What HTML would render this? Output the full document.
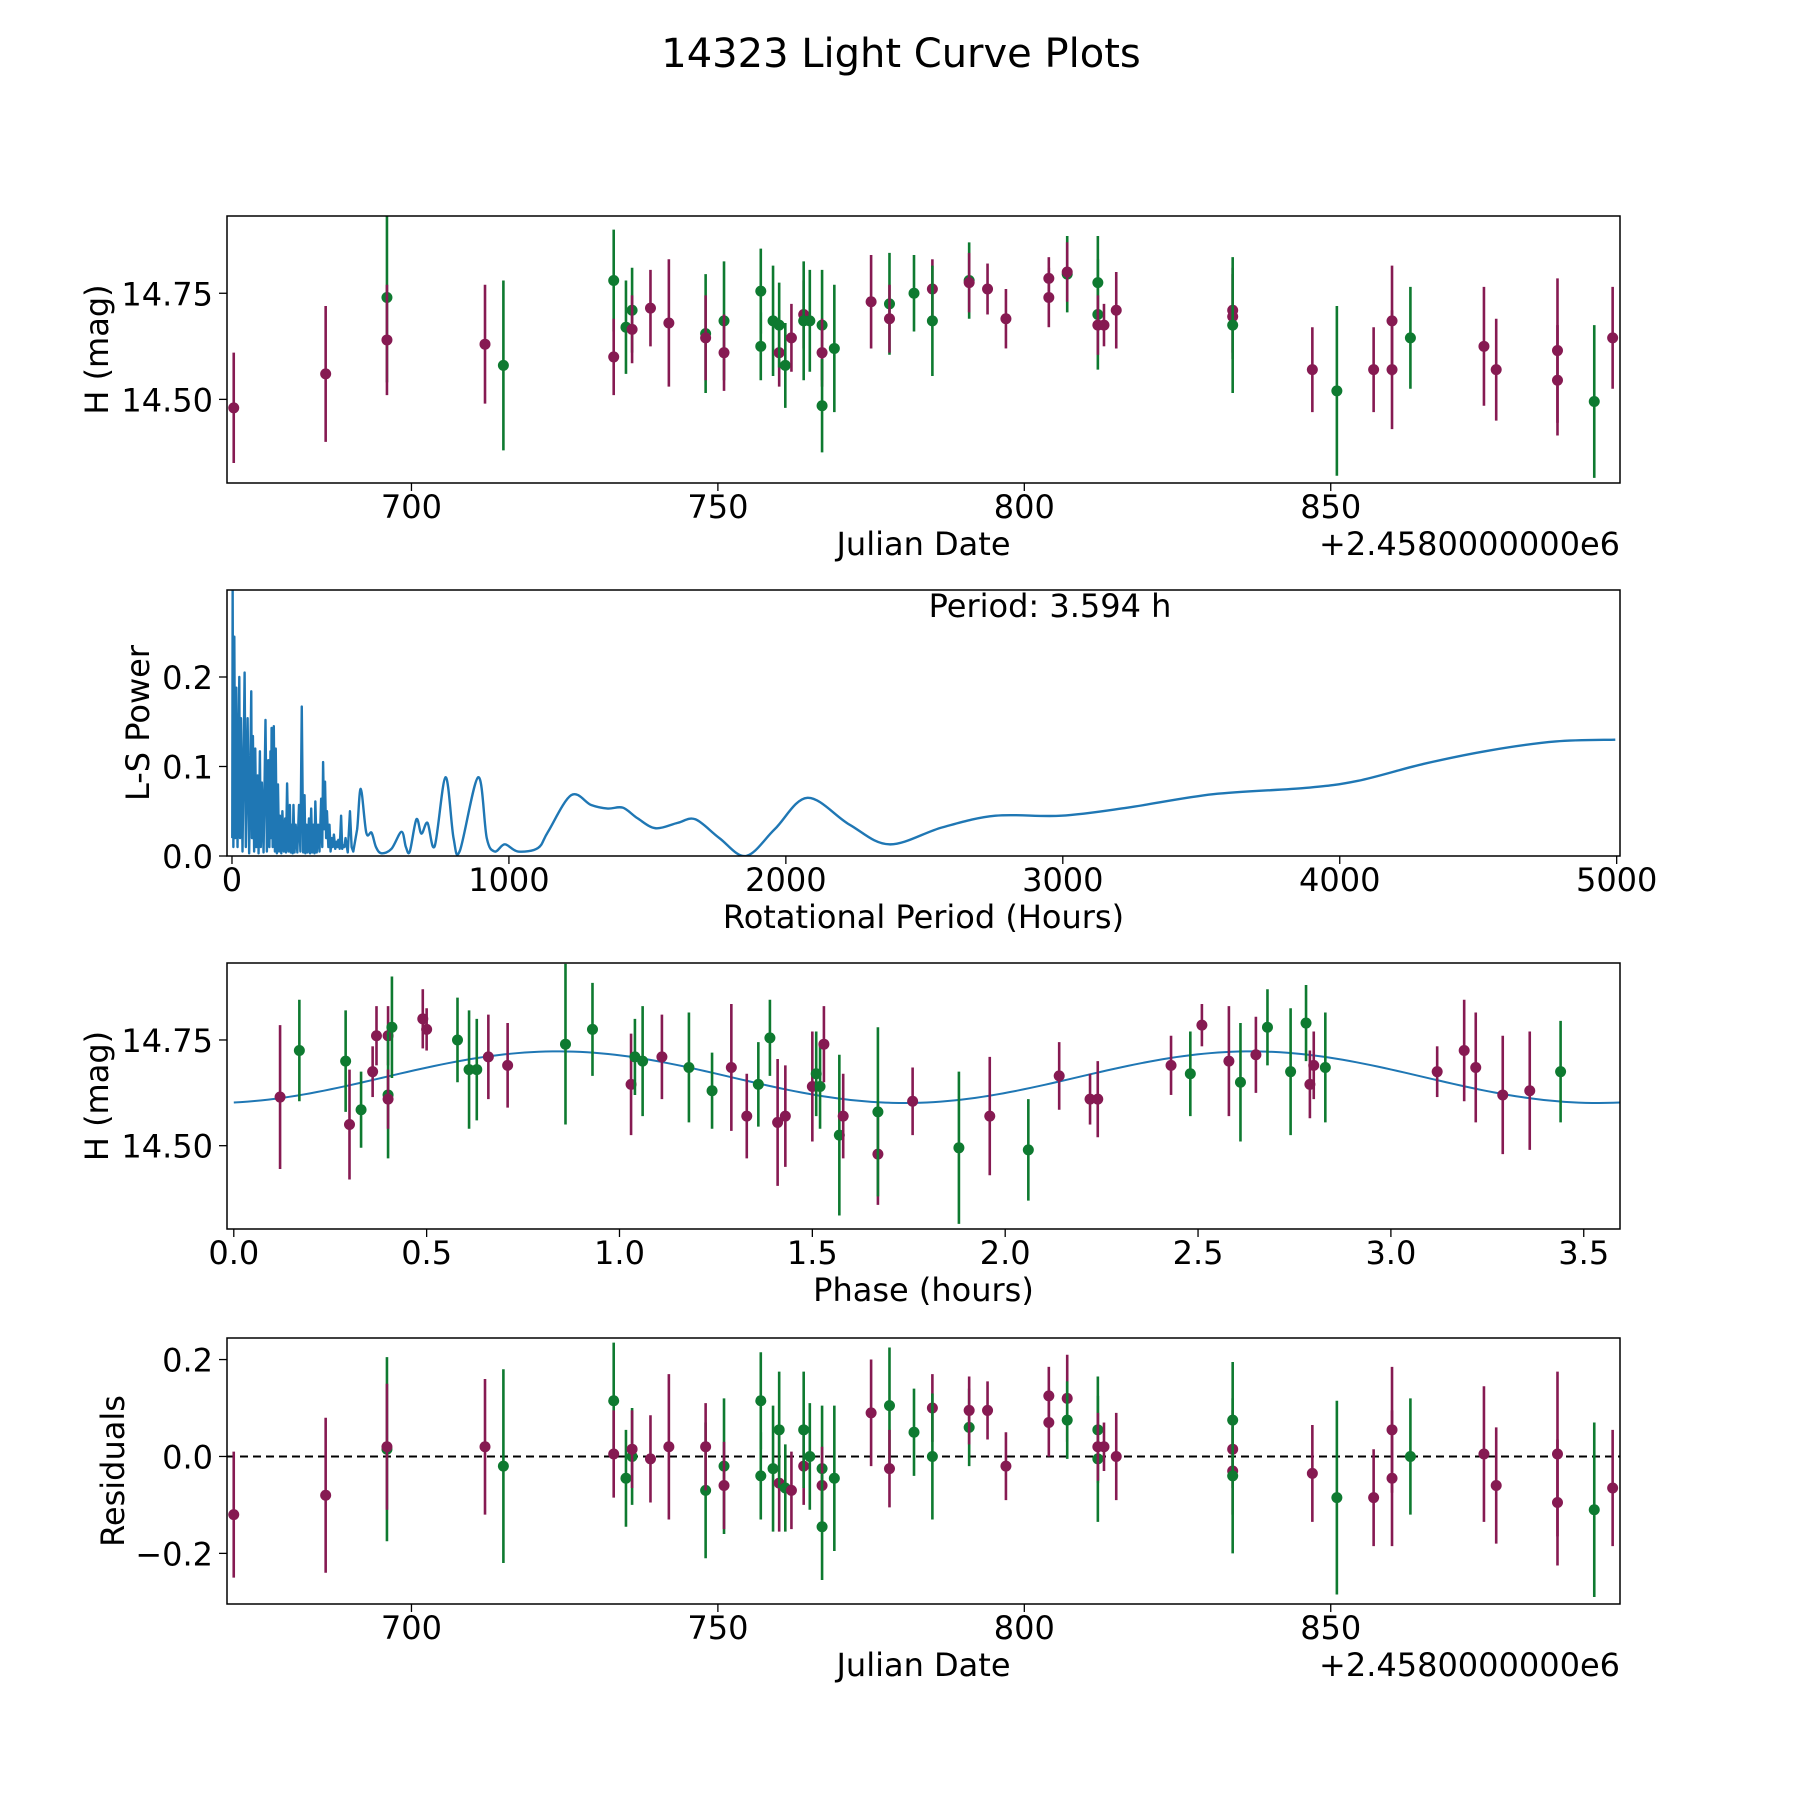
<!DOCTYPE html>
<html><head><meta charset="utf-8"><title>14323 Light Curve Plots</title>
<style>html,body{margin:0;padding:0;background:#fff}svg{display:block}
text{font-family:"DejaVu Sans","Liberation Sans",sans-serif;fill:#000}</style></head>
<body>
<svg id="fig" xmlns="http://www.w3.org/2000/svg" width="1800" height="1800" viewBox="0 0 1800 1800">
<text x="901" y="67" font-size="40" text-anchor="middle">14323 Light Curve Plots</text>
</svg>
<script>
// ---- Panel 1: light curve vs Julian Date ----
const lcDates = [671,686,696,696,712,715,733,733,735,736,736,739,742,748,748,751,751,757,757,759,760,760,761,762,764,764,765,767,767,767,769,775,778,778,782,785,785,791,791,794,797,804,804,807,807,812,812,812,813,815,834,834,834,847,851,857,860,860,863,875,877,887,887,893,896];
const lcMags = [14.48,14.56,14.74,14.64,14.63,14.58,14.78,14.60,14.67,14.71,14.665,14.715,14.68,14.655,14.645,14.685,14.61,14.755,14.625,14.685,14.61,14.675,14.58,14.645,14.70,14.685,14.685,14.675,14.61,14.485,14.62,14.73,14.725,14.69,14.75,14.76,14.685,14.78,14.775,14.76,14.69,14.785,14.74,14.795,14.80,14.775,14.70,14.675,14.675,14.71,14.71,14.695,14.675,14.57,14.52,14.57,14.685,14.57,14.645,14.625,14.57,14.615,14.545,14.495,14.645];
const lcErrs = [0.13,0.16,0.2,0.13,0.14,0.2,0.12,0.09,0.11,0.1,0.08,0.09,0.15,0.14,0.1,0.14,0.09,0.1,0.08,0.13,0.08,0.1,0.1,0.08,0.08,0.14,0.12,0.13,0.08,0.11,0.15,0.11,0.12,0.08,0.09,0.07,0.13,0.09,0.07,0.06,0.07,0.05,0.07,0.09,0.07,0.11,0.13,0.07,0.05,0.09,0.1,0.1,0.16,0.1,0.2,0.1,0.13,0.14,0.12,0.14,0.12,0.17,0.13,0.18,0.12];
const lcBands = ["m","m","g","m","m","g","g","m","g","g","m","m","m","g","m","g","m","g","g","g","m","g","g","m","m","g","g","g","m","g","g","m","g","m","g","m","g","g","m","m","m","m","m","g","m","g","g","m","m","m","m","m","g","m","g","m","m","m","g","m","m","m","m","g","m"];

// ---- Panel 2: Lomb-Scargle periodogram ----
const lsPeriods = [1,2.4,5,8.4,12,15.6,20,26.4,29,32.4,38,45.6,50,56.4,62,69.6,72,75.6,80,84,88,92.4,96,100.8,104,108,114,121,126,131,135,139,141,143,147,151,155,158,162,166,170,173,178,182,187,192,195,199,204,209,212,216,219,222,226,230,236,242,247,252,257,262,265,269,273,278,282,286,290,294,298,301,306,311,316,322,326,329,333,336,340,343,348,352,356,360,364,368,373,378,381,384,389,394,398,402,406,410,418,426,432,438,452,465,485,504,520,540,576,612,628,642,666,684,706,732,771,800,823,889,920,949,985,1033,1105,1141,1225,1297,1357,1411,1465,1530,1609,1673,1760,1856,1960,2078,2230,2374,2565,2757,2994,3233,3543,3875,4066,4304,4542,4780,4995];
const lsPowers = [0.02,0.30,0.01,0.245,0.02,0.188,0.01,0.20,0.02,0.154,0.005,0.205,0.01,0.154,0.003,0.184,0.02,0.134,0.005,0.12,0.01,0.09,0.003,0.117,0.01,0.082,0.004,0.152,0.005,0.107,0.01,0.117,0.02,0.143,0.01,0.145,0.005,0.12,0.003,0.08,0.005,0.045,0.003,0.05,0.005,0.042,0.004,0.081,0.005,0.057,0.004,0.035,0.003,0.057,0.004,0.035,0.004,0.057,0.005,0.167,0.004,0.068,0.003,0.035,0.004,0.042,0.003,0.053,0.004,0.035,0.003,0.061,0.004,0.035,0.005,0.064,0.01,0.105,0.03,0.083,0.02,0.05,0.01,0.035,0.005,0.02,0.01,0.024,0.008,0.016,0.01,0.018,0.008,0.045,0.008,0.012,0.01,0.02,0.004,0.05,0.01,0.005,0.03,0.075,0.026,0.026,0.01,0.003,0.008,0.027,0.01,0.005,0.041,0.025,0.037,0.011,0.088,0.02,0.006,0.088,0.02,0.005,0.013,0.005,0.009,0.027,0.068,0.057,0.053,0.054,0.042,0.031,0.037,0.041,0.02,0.0,0.03,0.065,0.035,0.013,0.032,0.045,0.045,0.054,0.069,0.076,0.084,0.103,0.118,0.128,0.130];

// ---- Panel 3: phase-folded light curve ----
const phPhases = [0.12,0.17,0.29,0.30,0.33,0.36,0.37,0.40,0.40,0.40,0.41,0.49,0.50,0.58,0.61,0.63,0.66,0.71,0.86,0.93,1.03,1.04,1.06,1.11,1.18,1.24,1.29,1.33,1.36,1.39,1.41,1.43,1.50,1.51,1.52,1.53,1.57,1.58,1.67,1.67,1.76,1.88,1.96,2.06,2.14,2.22,2.24,2.43,2.48,2.51,2.58,2.61,2.65,2.68,2.74,2.78,2.79,2.80,2.83,3.12,3.19,3.22,3.29,3.36,3.44];
const phMags = [14.615,14.725,14.70,14.55,14.585,14.675,14.76,14.76,14.62,14.61,14.78,14.80,14.775,14.75,14.68,14.68,14.71,14.69,14.74,14.775,14.645,14.71,14.70,14.71,14.685,14.63,14.685,14.57,14.645,14.755,14.555,14.57,14.64,14.67,14.64,14.74,14.525,14.57,14.48,14.58,14.605,14.495,14.57,14.49,14.665,14.61,14.61,14.69,14.67,14.785,14.70,14.65,14.715,14.78,14.675,14.79,14.645,14.69,14.685,14.675,14.725,14.685,14.62,14.63,14.675];
const phErrs = [0.17,0.12,0.12,0.13,0.09,0.06,0.07,0.07,0.15,0.07,0.12,0.07,0.05,0.1,0.14,0.12,0.1,0.1,0.19,0.11,0.12,0.09,0.13,0.1,0.13,0.09,0.15,0.1,0.1,0.09,0.15,0.12,0.13,0.1,0.1,0.09,0.19,0.1,0.12,0.2,0.08,0.18,0.14,0.12,0.08,0.06,0.09,0.07,0.1,0.05,0.13,0.14,0.09,0.09,0.15,0.09,0.08,0.08,0.13,0.06,0.12,0.13,0.14,0.14,0.12];
const phBands = ["m","g","g","m","g","m","m","m","g","m","g","m","m","g","g","g","m","m","g","g","m","g","g","m","g","g","m","m","g","g","m","m","m","g","g","m","g","m","m","g","m","g","m","g","m","m","m","m","g","m","m","g","m","g","g","g","m","m","g","m","m","m","m","m","g"];
// fitted sinusoid model parameters: [mean, amplitude, phase offset (h), period (h)]
const fitParams = [14.662, 0.061, 0.058, 3.594];

// ---- Panel 4: residuals ----
const rsDates = [671,686,696,696,712,715,733,733,735,736,736,739,742,748,748,751,751,757,757,759,760,760,761,762,764,764,765,767,767,767,769,775,778,778,782,785,785,791,791,794,797,804,804,807,807,812,812,812,813,815,834,834,834,834,847,851,857,860,860,863,875,877,887,887,893,896];
const rsVals = [-0.12,-0.08,0.015,0.02,0.02,-0.02,0.115,0.005,-0.045,0.0,0.015,-0.005,0.02,-0.07,0.02,-0.02,-0.06,0.115,-0.04,-0.025,-0.055,0.055,-0.065,-0.07,-0.02,0.055,0.0,-0.025,-0.06,-0.145,-0.045,0.09,0.105,-0.025,0.05,0.1,0.0,0.06,0.095,0.095,-0.02,0.125,0.07,0.12,0.075,0.055,-0.005,0.02,0.02,0.0,0.075,0.015,-0.03,-0.04,-0.035,-0.085,-0.085,0.055,-0.045,0.0,0.005,-0.06,0.005,-0.095,-0.11,-0.065];
const rsErrs = [0.13,0.16,0.19,0.13,0.14,0.2,0.12,0.09,0.1,0.1,0.08,0.09,0.15,0.14,0.09,0.14,0.09,0.1,0.09,0.13,0.1,0.12,0.09,0.08,0.08,0.12,0.11,0.13,0.08,0.11,0.15,0.11,0.12,0.08,0.09,0.07,0.13,0.08,0.07,0.06,0.07,0.06,0.07,0.09,0.08,0.11,0.13,0.07,0.05,0.09,0.12,0.08,0.09,0.16,0.1,0.2,0.1,0.13,0.14,0.12,0.14,0.12,0.17,0.13,0.18,0.12];
const rsBands = ["m","m","g","m","m","g","g","m","g","g","m","m","m","g","m","g","m","g","g","g","m","g","g","m","m","g","g","g","m","g","g","m","g","m","g","m","g","g","m","m","m","m","m","m","g","g","g","m","m","m","g","m","m","g","m","g","m","m","m","g","m","m","m","m","g","m"];

const xTicksDate = [700,750,800,850];
const yTicksMag = [14.50,14.75];
const xTicksPeriod = [0,1000,2000,3000,4000,5000];
const yTicksPower = [0.0,0.1,0.2];
const xTicksPhase = [0.0,0.5,1.0,1.5,2.0,2.5,3.0,3.5];
const yTicksRes = [-0.2,0.0,0.2];

const NS = "http://www.w3.org/2000/svg";
const svg = document.getElementById("fig");
const COL = {m:"#861a52", g:"#0e7a30"};
function el(tag, attrs, parent){const e=document.createElementNS(NS,tag);for(const k in attrs)e.setAttribute(k,attrs[k]);(parent||svg).appendChild(e);return e;}
function lin(d0,d1,p0,p1){return v=>p0+(v-d0)*(p1-p0)/(d1-d0);}
const R = 1620;

function makeAxes(name, box, xd, yd, xt, yt, xfmt, yfmt, xlabel, ylabel, ylabX, offsetText){
  const g = el("g",{});
  
  
  const X = lin(xd[0],xd[1],box.l,box.r), Y = lin(yd[0],yd[1],box.b,box.t);
  const cid = name+"-clip";
  const cp = el("clipPath",{id:cid},g);
  el("rect",{x:box.l,y:box.t,width:box.r-box.l,height:box.b-box.t},cp);
  const plot = el("g",{"clip-path":"url(#"+cid+")"},g);
  
  
  xt.forEach(v=>{
    const x=X(v);
    const t=el("line",{x1:x,x2:x,y1:box.b,y2:box.b+8,stroke:"#000","stroke-width":1.3},g);
    
    
    const tx=el("text",{x:x,y:box.b+35,"font-size":32,"text-anchor":"middle"},g);
    tx.textContent=xfmt(v);
    
    
  });
  yt.forEach(v=>{
    const y=Y(v);
    const t=el("line",{x1:box.l-8,x2:box.l,y1:y,y2:y,stroke:"#000","stroke-width":1.3},g);
    
    
    const tx=el("text",{x:box.l-14,y:y+12,"font-size":32,"text-anchor":"end"},g);
    tx.textContent=yfmt(v);
    
    
  });
  const xl=el("text",{x:(box.l+box.r)/2,y:box.b+72,"font-size":32,"text-anchor":"middle"},g);
  xl.textContent=xlabel;
  
  
  const cy=(box.t+box.b)/2;
  const yl=el("text",{x:ylabX,y:cy,"font-size":32,"text-anchor":"middle","dominant-baseline":"central",transform:"rotate(-90 "+ylabX+" "+cy+")"},g);
  yl.textContent=ylabel;
  
  
  if(offsetText){
    const ot=el("text",{x:box.r,y:box.b+72,"font-size":32,"text-anchor":"end"},g);
    ot.textContent=offsetText;
    
    
  }
  return {g,plot,X,Y,box};
}
function frame(ax){
  const r=el("rect",{x:ax.box.l,y:ax.box.t,width:ax.box.r-ax.box.l,height:ax.box.b-ax.box.t,fill:"none",stroke:"#000","stroke-width":1.5},ax.g);
  
  
}
function errPoints(ax, xs, ys, es, bands, nm){
  for(let i=0;i<xs.length;i++){
    const x=ax.X(xs[i]), c=COL[bands[i]]||COL.m;
    const l=el("line",{x1:x,x2:x,y1:ax.Y(ys[i]-es[i]),y2:ax.Y(ys[i]+es[i]),stroke:c,"stroke-width":2.6},ax.plot);
    
    
    const p=el("circle",{cx:x,cy:ax.Y(ys[i]),r:5.5,fill:c},ax.plot);
    
    
  }
}
const f2 = v=>v.toFixed(2), f1=v=>(v<0?"\u2212":"")+Math.abs(v).toFixed(1), f0=v=>String(v);
const dateRange=[669.9,897.2], magRange=[14.303,14.932];

// Panel 1
const ax1 = makeAxes("light-curve-panel",{l:227,r:R,t:216,b:483},dateRange,magRange,xTicksDate,yTicksMag,f0,f2,"Julian Date","H (mag)",97,"+2.4580000000e6");
errPoints(ax1, lcDates, lcMags, lcErrs, lcBands, "light-curve");
frame(ax1);

// Panel 2
const ax2 = makeAxes("periodogram-panel",{l:227,r:R,t:590,b:856},[-18,5012],[0,0.2972],xTicksPeriod,yTicksPower,f0,f1,"Rotational Period (Hours)","L-S Power",138,null);
const pts = lsPeriods.map((p,i)=>[ax2.X(p), ax2.Y(lsPowers[i])]);
let d="M"+pts[0][0].toFixed(2)+" "+pts[0][1].toFixed(2);
for(let i=1;i<pts.length;i++){
  if(lsPeriods[i] <= 452){ d+="L"+pts[i][0].toFixed(2)+" "+pts[i][1].toFixed(2); continue; }
  const p0=pts[Math.max(i-2,0)], p1=pts[i-1], p2=pts[i], p3=pts[Math.min(i+1,pts.length-1)];
  const c1=[p1[0]+(p2[0]-p0[0])/6, p1[1]+(p2[1]-p0[1])/6];
  const c2=[p2[0]-(p3[0]-p1[0])/6, p2[1]-(p3[1]-p1[1])/6];
  d+="C"+c1[0].toFixed(2)+" "+c1[1].toFixed(2)+" "+c2[0].toFixed(2)+" "+c2[1].toFixed(2)+" "+p2[0].toFixed(2)+" "+p2[1].toFixed(2);
}
const pl=el("path",{d:d,fill:"none",stroke:"#1f77b4","stroke-width":2.4,"stroke-linejoin":"round"},ax2.plot);


const pt=el("text",{x:1050,y:617,"font-size":32,"text-anchor":"middle"},ax2.g);
pt.textContent="Period: 3.594 h";


frame(ax2);

// Panel 3
const ax3 = makeAxes("phase-panel",{l:227,r:R,t:963,b:1229},[-0.0176,3.594],magRange,xTicksPhase,yTicksMag,v=>v.toFixed(1),f2,"Phase (hours)","H (mag)",97,null);
let dm="";
const N=200;
for(let i=0;i<=N;i++){
  const t=fitParams[3]*i/N;
  const m=fitParams[0]-fitParams[1]*Math.cos(4*Math.PI*(t+fitParams[2])/fitParams[3]);
  dm+=(i?"L":"M")+ax3.X(t).toFixed(2)+" "+ax3.Y(m).toFixed(2);
}
const ml=el("path",{d:dm,fill:"none",stroke:"#1f77b4","stroke-width":2},ax3.plot);


errPoints(ax3, phPhases, phMags, phErrs, phBands, "phase");
frame(ax3);

// Panel 4
const ax4 = makeAxes("residuals-panel",{l:227,r:R,t:1338,b:1604},dateRange,[-0.3045,0.2445],xTicksDate,yTicksRes,f0,f1,"Julian Date","Residuals",113,"+2.4580000000e6");
const zl=el("line",{x1:227,x2:R,y1:ax4.Y(0),y2:ax4.Y(0),stroke:"#000","stroke-width":2,"stroke-dasharray":"8,5"},ax4.plot);


errPoints(ax4, rsDates, rsVals, rsErrs, rsBands, "residual");
frame(ax4);
</script>
</body></html>
